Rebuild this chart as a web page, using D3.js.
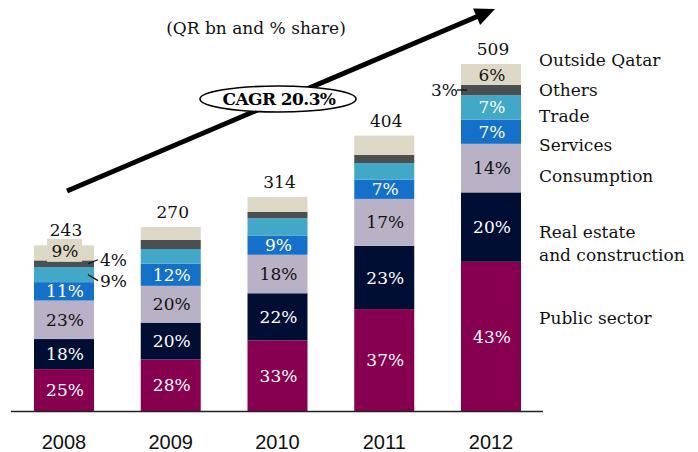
<!DOCTYPE html>
<html>
<head>
<meta charset="utf-8">
<script src="https://cdn.jsdelivr.net/npm/d3@7"></script>
<style>
  html, body { margin: 0; padding: 0; background: #fff; }
  svg { display: block; }
</style>
</head>
<body>
<svg id="chart" width="698" height="452"></svg>
<script>
// ---------------- DATA ----------------
const years = ["2008", "2009", "2010", "2011", "2012"];
const totals = [243, 270, 314, 404, 509];

const seriesNames = ["Public sector", "Real estate and construction", "Consumption", "Services", "Trade", "Others", "Outside Qatar"];
const publicSector = [25, 28, 33, 37, 43];
const realEstate   = [18, 20, 22, 23, 20];
const consumption  = [23, 20, 18, 17, 14];
const services     = [11, 12, 9, 7, 7];
const trade        = [9, 8, 8, 6, 7];
const others       = [4, 5, 3, 3, 3];
const outsideQatar = [9, 7, 7, 7, 6];

const legendLabels = [["Outside Qatar"], ["Others"], ["Trade"], ["Services"], ["Consumption"], ["Real estate", "and construction"], ["Public sector"]];
const titleText = "(QR bn and % share)";
const cagrText = "CAGR 20.3%";

// ---------------- STYLE / LAYOUT ----------------
const colors = ["#87004f", "#000e34", "#b9b1c5", "#1470c8", "#41a8c8", "#4a4f4f", "#ddd8c6"];
const textColors = ["#fff", "#fff", "#111", "#fff", "#fff", "#fff", "#111"];
// label placement per series (rows) and year (cols): "in", "right", "left" or null
const labelMode = [
  ["in", "in", "in", "in", "in"],
  ["in", "in", "in", "in", "in"],
  ["in", "in", "in", "in", "in"],
  ["in", "in", "in", "in", "in"],
  ["right", null, null, null, "in"],
  ["right", null, null, null, "left"],
  ["box", null, null, null, "in"]
];
const serif = "'DejaVu Serif', 'Liberation Serif', serif";
const values = [publicSector, realEstate, consumption, services, trade, others, outsideQatar];

const svg = d3.select("#chart");

const x = d3.scaleBand().domain(years).range([34, 521]).paddingInner(0.438).paddingOuter(0);
const y = d3.scaleLinear().domain([0, 509]).range([411, 64]);

// stacked segments
const segs = [];
years.forEach((yr, j) => {
  const sum = d3.sum(values, v => v[j]);
  let cum = 0;
  values.forEach((v, i) => {
    const v0 = totals[j] * cum / sum;
    cum += v[j];
    const v1 = totals[j] * cum / sum;
    segs.push({ year: yr, j, i, pct: v[j], v0, v1 });
  });
});

const gBars = svg.append("g");
gBars.selectAll("rect").data(segs).join("rect")
  .attr("x", d => x(d.year))
  .attr("width", x.bandwidth())
  .attr("y", d => y(d.v1))
  .attr("height", d => y(d.v0) - y(d.v1))
  .attr("fill", d => colors[d.i]);

// axis
const axis = svg.append("g").attr("transform", "translate(0,411.5)")
  .call(d3.axisBottom(x).tickSize(0).tickPadding(23));
axis.select(".domain").attr("d", "M11,0H543").attr("stroke", "#222").attr("stroke-width", 1.6);
axis.selectAll("text")
  .attr("font-family", "'Liberation Sans Narrow', 'Arial Narrow', 'Liberation Sans', sans-serif")
  .attr("font-size", 20).attr("fill", "#111");

// labels
const gLab = svg.append("g").attr("font-family", serif).attr("font-size", 17);
segs.forEach(d => {
  const mode = labelMode[d.i][d.j];
  if (!mode) return;
  const cx = x(d.year) + x.bandwidth() / 2;
  const cy = (y(d.v0) + y(d.v1)) / 2;
  const txt = d.pct + "%";
  if (mode === "in") {
    gLab.append("text").attr("x", cx + 1).attr("y", cy).attr("dy", "0.36em")
      .attr("text-anchor", "middle").attr("fill", textColors[d.i]).text(txt);
  } else if (mode === "box") {
    gLab.append("rect").attr("x", cx - 17).attr("y", cy - 14).attr("width", 35).attr("height", 23)
      .attr("fill", colors[d.i]);
    gLab.append("text").attr("x", cx + 1).attr("y", cy - 2).attr("dy", "0.36em")
      .attr("text-anchor", "middle").attr("fill", textColors[d.i]).text(txt);
  } else if (mode === "right") {
    const xr = x(d.year) + x.bandwidth();
    const ty = d.i === 5 ? cy - 4 : cy + 6;
    gLab.append("line").attr("x1", xr - 6).attr("y1", cy).attr("x2", xr + 4).attr("y2", ty)
      .attr("stroke", "#111").attr("stroke-width", 1.3);
    gLab.append("text").attr("x", xr + 6).attr("y", ty).attr("dy", "0.36em")
      .attr("text-anchor", "start").attr("fill", "#111").text(txt);
  } else if (mode === "left") {
    const xl = x(d.year);
    gLab.append("line").attr("x1", xl - 4).attr("y1", cy).attr("x2", xl + 6).attr("y2", cy)
      .attr("stroke", "#111").attr("stroke-width", 1.3);
    gLab.append("text").attr("x", xl - 3).attr("y", cy).attr("dy", "0.36em")
      .attr("text-anchor", "end").attr("fill", "#111").text(txt);
  }
});

// totals
svg.append("g").selectAll("text").data(years).join("text")
  .attr("x", d => x(d) + x.bandwidth() / 2 + 2)
  .attr("y", (d, j) => y(totals[j]) - 9)
  .attr("text-anchor", "middle")
  .attr("font-family", serif).attr("font-size", 17).attr("fill", "#111")
  .text((d, j) => totals[j]);

// legend
const legendY = [60, 90, 116, 145, 176, 232, 318];
const gLeg = svg.append("g").attr("font-family", serif).attr("font-size", 17).attr("fill", "#111");
legendLabels.forEach((lines, k) => {
  lines.forEach((ln, m) => {
    gLeg.append("text").attr("x", 539).attr("y", legendY[k] + m * 23).attr("dy", "0.36em").text(ln);
  });
});

// title
svg.append("text").attr("x", 256).attr("y", 28).attr("dy", "0.36em").attr("text-anchor", "middle")
  .attr("font-family", serif).attr("font-size", 17).attr("fill", "#111").text(titleText);

// CAGR arrow
const p0 = [67, 191], tip = [495, 9];
const dx = tip[0] - p0[0], dy = tip[1] - p0[1], L = Math.hypot(dx, dy);
const ux = dx / L, uy = dy / L, nx = -uy, ny = ux;
const hl = 20, hw = 9;
const base = [tip[0] - hl * ux, tip[1] - hl * uy];
svg.append("line").attr("x1", p0[0]).attr("y1", p0[1]).attr("x2", base[0] + ux * 2).attr("y2", base[1] + uy * 2)
  .attr("stroke", "#000").attr("stroke-width", 5);
svg.append("path")
  .attr("d", `M${tip[0]},${tip[1]}L${base[0] + hw * nx},${base[1] + hw * ny}L${base[0] - hw * nx},${base[1] - hw * ny}Z`)
  .attr("fill", "#000");

svg.append("ellipse").attr("cx", 278).attr("cy", 99).attr("rx", 78).attr("ry", 13)
  .attr("fill", "#fff").attr("stroke", "#000").attr("stroke-width", 1.6);
svg.append("text").attr("x", 279).attr("y", 99).attr("dy", "0.36em").attr("text-anchor", "middle")
  .attr("font-family", serif).attr("font-size", 17).attr("font-weight", "bold")
  .attr("letter-spacing", -0.6).attr("fill", "#000").text(cagrText);
</script>
</body>
</html>
